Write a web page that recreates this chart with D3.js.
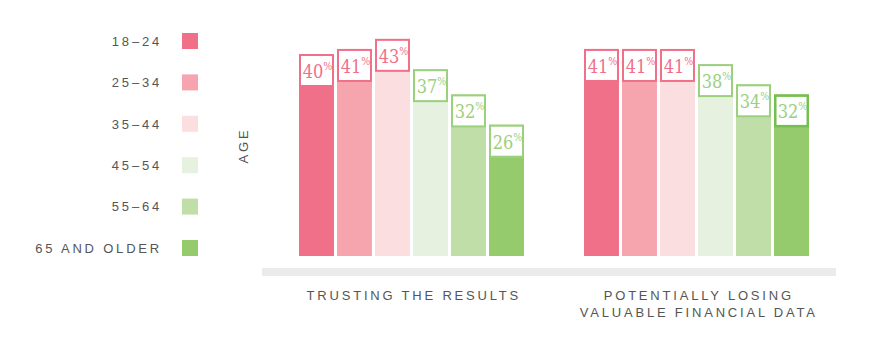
<!DOCTYPE html>
<html>
<head>
<meta charset="utf-8">
<script src="https://cdn.jsdelivr.net/npm/d3@7"></script>
<style>
  body { margin: 0; background: #fff; }
  svg { display: block; }
</style>
</head>
<body>
<div id="chart"></div>
<script>
// Data
const ages = ["18-24", "25-34", "35-44", "45-54", "55-64", "65 AND OLDER"];
const groups = ["TRUSTING THE RESULTS", "POTENTIALLY LOSING VALUABLE FINANCIAL DATA"];
const groupLines = [["TRUSTING THE RESULTS"], ["POTENTIALLY LOSING", "VALUABLE FINANCIAL DATA"]];
const trustingValues = [40, 41, 43, 37, 32, 26];
const losingValues = [41, 41, 41, 38, 34, 32];

const ageColors = ["#f07089", "#f6a5ae", "#fbdee0", "#e6f2df", "#c0dea7", "#95cb6d"];
const strokeColors = ["#f07089", "#f07089", "#f07089", "#9bd07c", "#9bd07c", "#9bd07c"];

const width = 896, height = 353;
const sans = "'Liberation Sans', Arial, sans-serif";

const svg = d3.select("#chart")
  .append("svg")
  .attr("width", width)
  .attr("height", height);

const rows = [];
groups.forEach((g, gi) => {
  const vals = gi === 0 ? trustingValues : losingValues;
  ages.forEach((a, i) => rows.push({group: g, gi: gi, age: a, ai: i, value: vals[i]}));
});

// Scales
const x0 = d3.scaleBand()
  .domain(groups)
  .range([269, 839]);

const x1 = d3.scaleBand()
  .domain(ages)
  .range([30, 255])
  .paddingInner(0.08);

const y = d3.scaleLinear()
  .domain([0, 50])
  .range([256, 3.5]);

const color = d3.scaleOrdinal().domain(ages).range(ageColors);
const stroke = d3.scaleOrdinal().domain(ages).range(strokeColors);

// Baseline band
svg.append("rect")
  .attr("x", 262)
  .attr("y", 268)
  .attr("width", 574)
  .attr("height", 8)
  .attr("fill", "#ebebeb");

// Bars
const bar = svg.append("g")
  .selectAll("g")
  .data(rows)
  .join("g")
  .attr("transform", d => `translate(${x0(d.group) + x1(d.age)},0)`);

bar.append("rect")
  .attr("x", 0)
  .attr("y", d => y(d.value))
  .attr("width", x1.bandwidth())
  .attr("height", d => y(0) - y(d.value))
  .attr("fill", d => color(d.age));

// Value boxes
const last = d => d.gi === 1 && d.ai === ages.length - 1;
bar.append("rect")
  .attr("x", d => last(d) ? 1.25 : 1)
  .attr("y", d => y(d.value) + (last(d) ? 1.25 : 1))
  .attr("width", d => x1.bandwidth() - (last(d) ? 2.5 : 2))
  .attr("height", d => last(d) ? 30.5 : 31)
  .attr("fill", "#fff")
  .attr("stroke", d => last(d) ? "#74bf50" : stroke(d.age))
  .attr("stroke-width", d => last(d) ? 2.5 : 2);

const label = bar.append("text")
  .attr("x", x1.bandwidth() / 2 + 1)
  .attr("y", d => y(d.value) + 24)
  .attr("text-anchor", "middle")
  .style("font-family", "'DejaVu Serif Condensed', 'DejaVu Serif', serif")
  .style("fill", d => stroke(d.age));

label.append("tspan")
  .style("font-size", "18px")
  .text(d => d.value);

label.append("tspan")
  .attr("dy", -8)
  .style("font-size", "10.5px")
  .text("%");

// Group labels
const glabel = svg.append("g")
  .selectAll("text")
  .data(groups)
  .join("text")
  .attr("x", d => x0(d) + x0.bandwidth() / 2 + 2.3)
  .attr("y", 300)
  .attr("text-anchor", "middle")
  .style("font-family", sans)
  .style("font-size", "13px")
  .style("letter-spacing", "2.8px")
  .style("fill", "#555");

glabel.selectAll("tspan")
  .data((d, i) => groupLines[i])
  .join("tspan")
  .attr("x", function() { return d3.select(this.parentNode).attr("x"); })
  .attr("dy", (d, i) => i === 0 ? 0 : 17)
  .text(d => d);

// Legend
const ly = d3.scalePoint()
  .domain(ages)
  .range([41, 248]);

const legendRow = svg.append("g")
  .selectAll("g")
  .data(ages)
  .join("g")
  .attr("transform", d => `translate(0,${ly(d)})`);

legendRow.append("rect")
  .attr("x", 182)
  .attr("y", -8)
  .attr("width", 16)
  .attr("height", 16)
  .attr("fill", d => color(d));

legendRow.append("text")
  .attr("x", 162)
  .attr("y", 4.7)
  .attr("text-anchor", "end")
  .style("font-family", sans)
  .style("font-size", "13px")
  .style("letter-spacing", "2.8px")
  .style("fill", "#555")
  .text(d => d.replace("-", "\u2013"));

// Axis title
svg.append("text")
  .attr("transform", "translate(247.5,145.5) rotate(-90)")
  .attr("text-anchor", "middle")
  .style("font-family", sans)
  .style("font-size", "13px")
  .style("letter-spacing", "2.8px")
  .style("fill", "#555")
  .text("AGE");
</script>
</body>
</html>
